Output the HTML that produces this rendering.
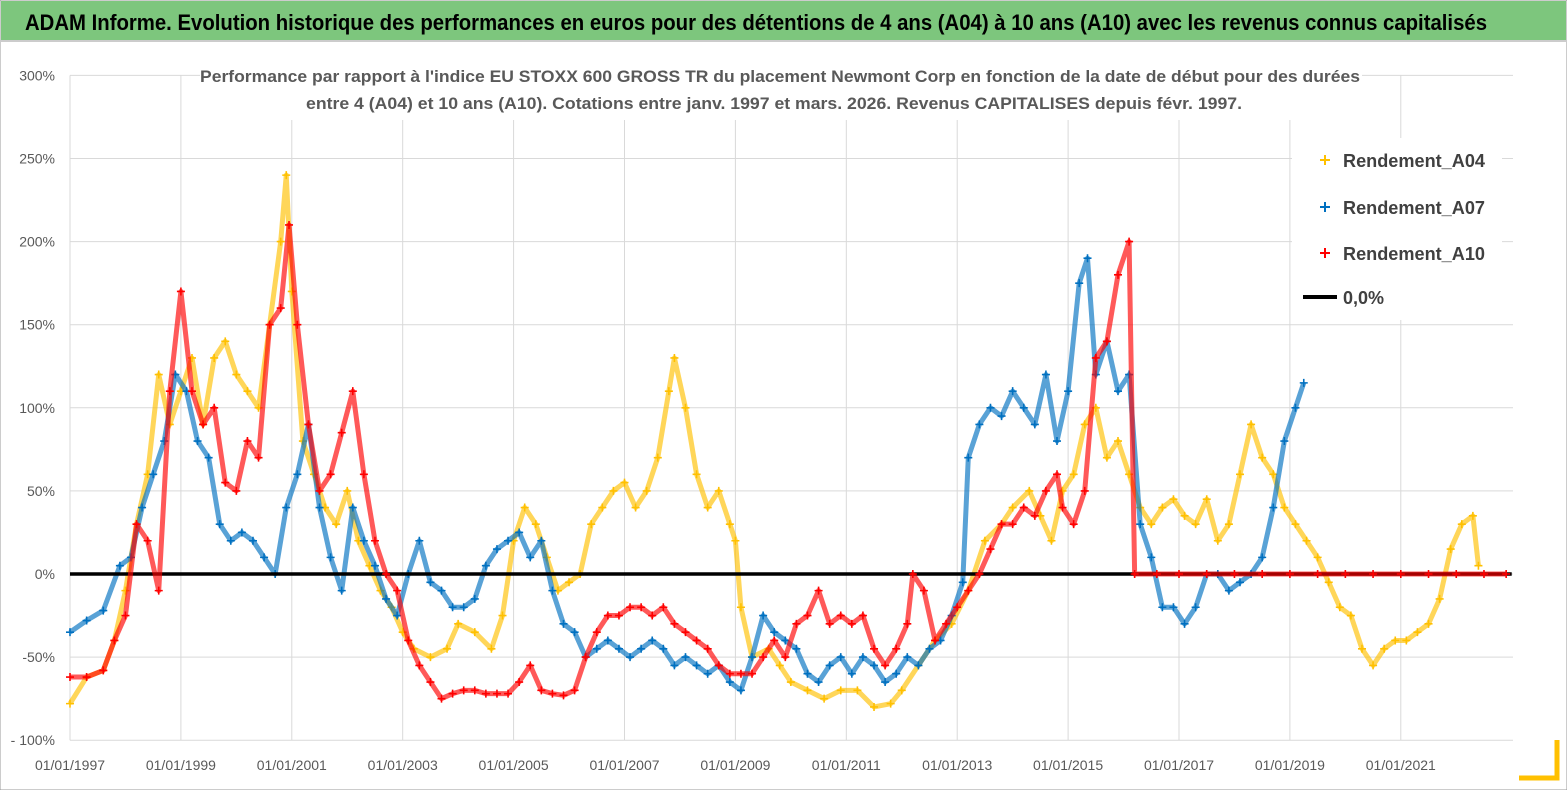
<!DOCTYPE html>
<html><head><meta charset="utf-8"><style>
body{margin:0;background:#fff;}
svg{display:block;font-family:"Liberation Sans",sans-serif;}
</style></head><body>
<svg id="chart" width="1567" height="790" viewBox="0 0 1567 790">
<rect x="0" y="0" width="1567" height="790" fill="#fff" stroke="#999"/>
<rect x="1" y="1" width="1565" height="39" fill="#7dc67d"/>
<line x1="0" y1="41" x2="1567" y2="41" stroke="#ccc" stroke-width="2"/>
<text x="25" y="30" font-size="22" font-weight="bold" fill="#000" textLength="1462" lengthAdjust="spacingAndGlyphs">ADAM Informe. Evolution historique des performances en euros pour des détentions de 4 ans (A04) à 10 ans (A10) avec les revenus connus capitalisés</text>
<g id="grid"></g>
<g id="axes"></g>
<g id="series"></g>
<rect x="200" y="62" width="1162" height="58" fill="#fff"/>
<text x="780" y="82" text-anchor="middle" font-size="17" font-weight="bold" fill="#595959" textLength="1160" lengthAdjust="spacingAndGlyphs">Performance par rapport à l'indice EU STOXX 600 GROSS TR  du placement Newmont Corp en fonction de la date de début pour des durées</text>
<text x="774" y="109" text-anchor="middle" font-size="17" font-weight="bold" fill="#595959" textLength="936" lengthAdjust="spacingAndGlyphs">entre 4 (A04) et 10 ans (A10). Cotations entre janv. 1997 et mars. 2026. Revenus CAPITALISES depuis févr. 1997.</text>
<g>
<rect x="1292" y="138" width="210" height="182" fill="#fff"/>
<g><path d="M1320 160h10M1325 155v10" stroke="#ffc000" stroke-width="2"/><text x="1343" y="167" font-size="18" font-weight="bold" fill="#404040" textLength="142" lengthAdjust="spacingAndGlyphs">Rendement_A04</text></g>
<g><path d="M1320 207h10M1325 202v10" stroke="#0070c0" stroke-width="2"/><text x="1343" y="214" font-size="18" font-weight="bold" fill="#404040" textLength="142" lengthAdjust="spacingAndGlyphs">Rendement_A07</text></g>
<g><path d="M1320 253h10M1325 248v10" stroke="#ff0000" stroke-width="2"/><text x="1343" y="260" font-size="18" font-weight="bold" fill="#404040" textLength="142" lengthAdjust="spacingAndGlyphs">Rendement_A10</text></g>
<g><line x1="1303" y1="297" x2="1337" y2="297" stroke="#000" stroke-width="4"/><text x="1343" y="304" font-size="18" font-weight="bold" fill="#404040">0,0%</text></g>
</g>
<path d="M1557 740v38h-38" fill="none" stroke="#ffc000" stroke-width="5"/>
</svg>
<script>
const yTicks=[-100,-50,0,50,100,150,200,250,300];
const yTickLabels=['- 100%','-50%','0%','50%','100%','150%','200%','250%','300%'];
const xTicks=[1997,1999,2001,2003,2005,2007,2009,2011,2013,2015,2017,2019,2021];
const xTickLabels=['01/01/1997','01/01/1999','01/01/2001','01/01/2003','01/01/2005','01/01/2007','01/01/2009','01/01/2011','01/01/2013','01/01/2015','01/01/2017','01/01/2019','01/01/2021'];
const a04Dates=[1997.0,1997.3,1997.6,1997.8,1998.0,1998.2,1998.4,1998.6,1998.8,1999.0,1999.2,1999.4,1999.6,1999.8,2000.0,2000.2,2000.4,2000.6,2000.8,2000.9,2001.0,2001.2,2001.4,2001.6,2001.8,2002.0,2002.2,2002.4,2002.6,2002.8,2003.0,2003.2,2003.5,2003.8,2004.0,2004.3,2004.6,2004.8,2005.0,2005.2,2005.4,2005.6,2005.8,2006.0,2006.2,2006.4,2006.6,2006.8,2007.0,2007.2,2007.4,2007.6,2007.8,2007.9,2008.1,2008.3,2008.5,2008.7,2008.9,2009.0,2009.1,2009.3,2009.6,2009.8,2010.0,2010.3,2010.6,2010.9,2011.2,2011.5,2011.8,2012.0,2012.3,2012.6,2012.9,2013.2,2013.5,2013.8,2014.0,2014.3,2014.5,2014.7,2014.9,2015.1,2015.3,2015.5,2015.7,2015.9,2016.1,2016.3,2016.5,2016.7,2016.9,2017.1,2017.3,2017.5,2017.7,2017.9,2018.1,2018.3,2018.5,2018.7,2018.9,2019.1,2019.3,2019.5,2019.7,2019.9,2020.1,2020.3,2020.5,2020.7,2020.9,2021.1,2021.3,2021.5,2021.7,2021.9,2022.1,2022.3,2022.4];
const a04Values=[-78,-62,-58,-40,-10,30,60,120,90,110,130,90,130,140,120,110,100,150,200,240,170,80,60,40,30,50,20,5,-10,-20,-35,-45,-50,-45,-30,-35,-45,-25,20,40,30,10,-10,-5,0,30,40,50,55,40,50,70,110,130,100,60,40,50,30,20,-20,-50,-45,-55,-65,-70,-75,-70,-70,-80,-78,-70,-55,-40,-30,-10,20,30,40,50,35,20,50,60,90,100,70,80,60,40,30,40,45,35,30,45,20,30,60,90,70,60,40,30,20,10,-5,-20,-25,-45,-55,-45,-40,-40,-35,-30,-15,15,30,35,5];
const a07Dates=[1997.0,1997.3,1997.6,1997.9,1998.1,1998.3,1998.5,1998.7,1998.9,1999.1,1999.3,1999.5,1999.7,1999.9,2000.1,2000.3,2000.5,2000.7,2000.9,2001.1,2001.3,2001.5,2001.7,2001.9,2002.1,2002.3,2002.5,2002.7,2002.9,2003.1,2003.3,2003.5,2003.7,2003.9,2004.1,2004.3,2004.5,2004.7,2004.9,2005.1,2005.3,2005.5,2005.7,2005.9,2006.1,2006.3,2006.5,2006.7,2006.9,2007.1,2007.3,2007.5,2007.7,2007.9,2008.1,2008.3,2008.5,2008.7,2008.9,2009.1,2009.3,2009.5,2009.7,2009.9,2010.1,2010.3,2010.5,2010.7,2010.9,2011.1,2011.3,2011.5,2011.7,2011.9,2012.1,2012.3,2012.5,2012.7,2012.9,2013.1,2013.2,2013.4,2013.6,2013.8,2014.0,2014.2,2014.4,2014.6,2014.8,2015.0,2015.2,2015.35,2015.5,2015.7,2015.9,2016.1,2016.3,2016.5,2016.7,2016.9,2017.1,2017.3,2017.5,2017.7,2017.9,2018.1,2018.3,2018.5,2018.7,2018.9,2019.1,2019.25];
const a07Values=[-35,-28,-22,5,10,40,60,80,120,110,80,70,30,20,25,20,10,0,40,60,90,40,10,-10,40,20,5,-15,-25,0,20,-5,-10,-20,-20,-15,5,15,20,25,10,20,-10,-30,-35,-50,-45,-40,-45,-50,-45,-40,-45,-55,-50,-55,-60,-55,-65,-70,-50,-25,-35,-40,-45,-60,-65,-55,-50,-60,-50,-55,-65,-60,-50,-55,-45,-40,-25,-5,70,90,100,95,110,100,90,120,80,110,175,190,120,140,110,120,30,10,-20,-20,-30,-20,0,0,-10,-5,0,10,40,80,100,115];
const a10Dates=[1997.0,1997.3,1997.6,1997.8,1998.0,1998.2,1998.4,1998.6,1998.8,1999.0,1999.2,1999.4,1999.6,1999.8,2000.0,2000.2,2000.4,2000.6,2000.8,2000.95,2001.1,2001.3,2001.5,2001.7,2001.9,2002.1,2002.3,2002.5,2002.7,2002.9,2003.1,2003.3,2003.5,2003.7,2003.9,2004.1,2004.3,2004.5,2004.7,2004.9,2005.1,2005.3,2005.5,2005.7,2005.9,2006.1,2006.3,2006.5,2006.7,2006.9,2007.1,2007.3,2007.5,2007.7,2007.9,2008.1,2008.3,2008.5,2008.7,2008.9,2009.1,2009.3,2009.5,2009.7,2009.9,2010.1,2010.3,2010.5,2010.7,2010.9,2011.1,2011.3,2011.5,2011.7,2011.9,2012.1,2012.2,2012.4,2012.6,2012.8,2013.0,2013.2,2013.4,2013.6,2013.8,2014.0,2014.2,2014.4,2014.6,2014.8,2014.9,2015.1,2015.3,2015.5,2015.7,2015.9,2016.1,2016.2,2016.6,2017.0,2017.5,2018.0,2018.5,2019.0,2019.5,2020.0,2020.5,2021.0,2021.5,2022.0,2022.5,2022.9];
const a10Values=[-62,-62,-58,-40,-25,30,20,-10,110,170,110,90,100,55,50,80,70,150,160,210,150,90,50,60,85,110,60,20,0,-10,-40,-55,-65,-75,-72,-70,-70,-72,-72,-72,-65,-55,-70,-72,-73,-70,-50,-35,-25,-25,-20,-20,-25,-20,-30,-35,-40,-45,-55,-60,-60,-60,-50,-40,-50,-30,-25,-10,-30,-25,-30,-25,-45,-55,-45,-30,0,-10,-40,-30,-20,-10,0,15,30,30,40,35,50,60,40,30,50,130,140,180,200,0,0,0,0,0,0,0,0,0,0,0,0,0,0,0];
const zeroLine=[1997.0,2023.0];

const NS='http://www.w3.org/2000/svg';
const X0=70,PXY=55.45,Y0=574,PXP=83.1/50;
function xs(d){return X0+(d-1997)*PXY;}
function ys(v){return Y0-v*PXP;}
function mk(tag,attrs,parent){const e=document.createElementNS(NS,tag);for(const k in attrs)e.setAttribute(k,attrs[k]);parent.appendChild(e);return e;}
const grid=document.getElementById('grid'),axes=document.getElementById('axes'),ser=document.getElementById('series');
yTicks.forEach((t,i)=>{
  const l=mk('line',{x1:X0,x2:1513,y1:ys(t),y2:ys(t),stroke:'#d9d9d9','stroke-width':1},grid);
  
  
  const tx=mk('text',{x:55,y:ys(t)+5,'text-anchor':'end','font-size':14,fill:'#595959'},axes);
  tx.textContent=yTickLabels[i];
  
  
});
xTicks.forEach((t,i)=>{
  const l=mk('line',{x1:xs(t),x2:xs(t),y1:ys(300),y2:ys(-100),stroke:'#d9d9d9','stroke-width':1},grid);
  
  
  const tx=mk('text',{x:xs(t),y:770,'text-anchor':'middle','font-size':14,fill:'#595959'},axes);
  tx.textContent=xTickLabels[i];
  
  
});
function drawSeries(dates,vals,color,name){
  const g=mk('g',{},ser);
  
  
  const pts=dates.map((d,i)=>xs(d)+','+ys(vals[i])).join(' ');
  mk('polyline',{points:pts,fill:'none',stroke:color,'stroke-width':5,'stroke-opacity':0.65,'stroke-linejoin':'round'},g);
  let dpath='';
  dates.forEach((d,i)=>{const x=xs(d),y=ys(vals[i]);dpath+=`M${x-4} ${y}h8M${x} ${y-4}v8`;});
  const p=mk('path',{d:dpath,stroke:color,'stroke-width':1.6,fill:'none'},g);
  
  
}
drawSeries(a04Dates,a04Values,'#ffc000','series-a04');
drawSeries(a07Dates,a07Values,'#0070c0','series-a07');
const zl=mk('line',{x1:xs(zeroLine[0]),x2:xs(zeroLine[1]),y1:ys(0),y2:ys(0),stroke:'#000','stroke-width':3.5},ser);


drawSeries(a10Dates,a10Values,'#ff0000','series-a10');
</script>
</body></html>
